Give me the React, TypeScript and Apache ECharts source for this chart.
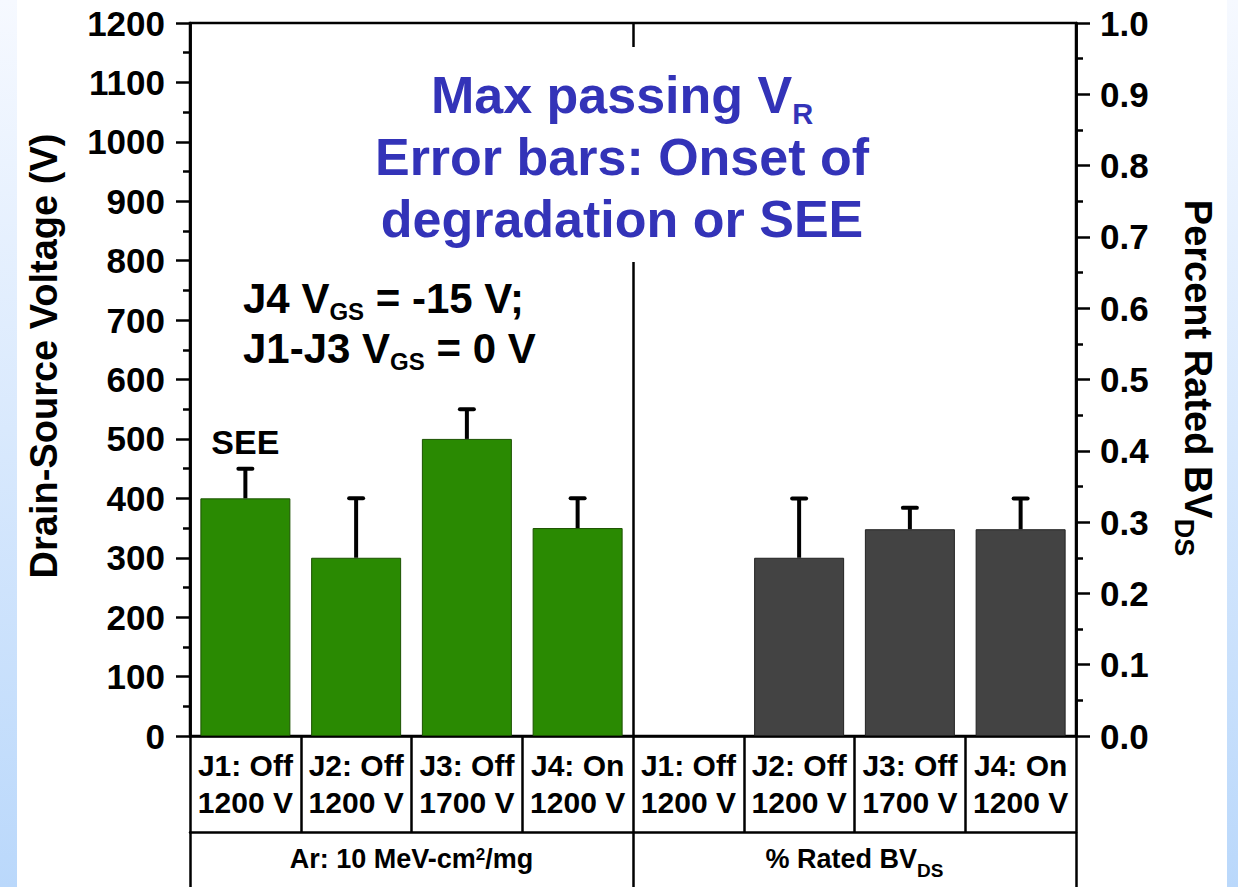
import React, { useEffect, useRef } from "react";
import * as echarts from "echarts";

// ---------- data ----------
const devices = ["J1: Off", "J2: Off", "J3: Off", "J4: On", "J1: Off", "J2: Off", "J3: Off", "J4: On"];
const ratings = ["1200 V", "1200 V", "1700 V", "1200 V", "1200 V", "1200 V", "1700 V", "1200 V"];
const categoryKeys = ["ar-J1", "ar-J2", "ar-J3", "ar-J4", "bv-J1", "bv-J2", "bv-J3", "bv-J4"];
const groupKeys = ["ar", "bv"];
const groupLabels = ["{m|Ar: 10 MeV-cm}{sup|2}{m|/mg}", "{m|% Rated BV}{sub|DS}"];

// Ar: 10 MeV-cm2/mg, drain-source voltage (V)
const maxPassingV = [400, 300, 500, 350];
const onsetV = [450, 400, 550, 400];
const voltageNotes = ["SEE", "", "", ""];

// fraction of rated BV_DS
const ratedFraction: (number | null)[] = [null, 0.25, 0.29, 0.29];
const onsetFraction: (number | null)[] = [null, 0.333, 0.32, 0.333];

const leftTicks = { min: 0, max: 1200, interval: 100 };
const rightTicks = { min: 0, max: 1, interval: 0.1 };

const FONT = '"Liberation Sans", Arial, Helvetica, sans-serif';
const GREEN = "#2a8a02";
const GRAY = "#434343";
const TITLE_BLUE = "#3333b8";

export default function App() {
  const ref = useRef<HTMLDivElement | null>(null);

  useEffect(() => {
    document.body.style.margin = "0";
    if (!ref.current) return;
    const chart = echarts.init(ref.current, undefined, { renderer: "svg" });

    const nGroup = maxPassingV.length;
    const greenData = [...maxPassingV, ...ratedFraction.map(() => "-")];
    const grayData = [...maxPassingV.map(() => "-"), ...ratedFraction.map((v) => (v == null ? "-" : v))];

    const errV = maxPassingV.map((v, i) => [i, v, onsetV[i]]);
    const errF: number[][] = [];
    ratedFraction.forEach((v, i) => {
      const u = onsetFraction[i];
      if (v != null && u != null) errF.push([i + nGroup, v, u]);
    });

    const makeRender = (notes: string[] | null) => (params: any, api: any) => {
      const x = api.value(0);
      const base = api.coord([x, api.value(1)]);
      const top = api.coord([x, api.value(2)]);
      const children: any[] = [
        {
          type: "line",
          shape: { x1: base[0], y1: base[1], x2: top[0], y2: top[1] },
          style: { stroke: "#000", lineWidth: 4 },
        },
        {
          type: "line",
          shape: { x1: top[0] - 7, y1: top[1], x2: top[0] + 7, y2: top[1] },
          style: { stroke: "#000", lineWidth: 4, lineCap: "round" },
        },
      ];
      const note = notes ? notes[params.dataIndex] : "";
      if (note) {
        children.push({
          type: "text",
          x: top[0],
          y: top[1] - 27,
          style: {
            text: note,
            font: `bold 34px ${FONT}`,
            fill: "#000",
            align: "center",
            verticalAlign: "middle",
          },
        });
      }
      return { type: "group", children };
    };

    const stripGradient = () =>
      new echarts.graphic.LinearGradient(0, 0, 0, 1, [
        { offset: 0, color: "#f6f9ff" },
        { offset: 1, color: "#bad8fb" },
      ]);

    const axisLineStyle = { color: "#000", width: 2.5 };

    const option: any = {
      animation: false,
      backgroundColor: "#ffffff",
      grid: {
        left: 190,
        right: 162,
        top: 23,
        bottom: 151,
        show: true,
        borderColor: "#000",
        borderWidth: 2.5,
        backgroundColor: "transparent",
      },
      xAxis: [
        {
          type: "category",
          data: categoryKeys,
          position: "bottom",
          axisLine: { show: true, onZero: false, lineStyle: axisLineStyle },
          axisTick: { show: true, interval: 0, length: 96, lineStyle: axisLineStyle },
          axisLabel: {
            interval: 0,
            margin: 11,
            formatter: (_v: string, i: number) => `${devices[i]}\n${ratings[i]}`,
            fontFamily: FONT,
            fontWeight: "bold",
            fontSize: 30,
            lineHeight: 37,
            color: "#000",
          },
          splitLine: { show: false },
        },
        {
          type: "category",
          data: groupKeys,
          position: "bottom",
          offset: 96,
          axisLine: { show: true, onZero: false, lineStyle: axisLineStyle },
          axisTick: { show: true, interval: 0, length: 55, lineStyle: axisLineStyle },
          axisLabel: {
            interval: 0,
            margin: 12,
            formatter: (_v: string, i: number) => groupLabels[i],
            color: "#000",
            rich: {
              m: { fontFamily: FONT, fontWeight: "bold", fontSize: 27, lineHeight: 30, color: "#000" },
              sup: { fontFamily: FONT, fontWeight: "bold", fontSize: 17, lineHeight: 30, padding: [0, 0, 10, 0], color: "#000" },
              sub: { fontFamily: FONT, fontWeight: "bold", fontSize: 19, lineHeight: 30, padding: [23, 0, 0, 0], color: "#000" },
            },
          },
          splitLine: { show: true, interval: 0, lineStyle: axisLineStyle },
        },
      ],
      yAxis: [
        {
          type: "value",
          position: "left",
          ...leftTicks,
          axisLine: { show: true, onZero: false, lineStyle: axisLineStyle },
          axisTick: { show: true, length: 14, lineStyle: axisLineStyle },
          minorTick: { show: true, splitNumber: 2, length: 7, lineStyle: axisLineStyle },
          splitLine: { show: false },
          axisLabel: {
            margin: 25,
            formatter: (v: number) => String(v),
            fontFamily: FONT,
            fontWeight: "bold",
            fontSize: 35,
            color: "#000",
          },
        },
        {
          type: "value",
          position: "right",
          ...rightTicks,
          axisLine: { show: true, onZero: false, lineStyle: axisLineStyle },
          axisTick: { show: true, length: 14, lineStyle: axisLineStyle },
          minorTick: { show: true, splitNumber: 2, length: 7, lineStyle: axisLineStyle },
          splitLine: { show: false },
          axisLabel: {
            margin: 24,
            formatter: (v: number) => v.toFixed(1),
            fontFamily: FONT,
            fontWeight: "bold",
            fontSize: 35,
            color: "#000",
          },
        },
      ],
      series: [
        {
          name: "Max passing V",
          type: "bar",
          xAxisIndex: 0,
          yAxisIndex: 0,
          data: greenData,
          barWidth: 90,
          barGap: "-100%",
          itemStyle: { color: GREEN, borderColor: "#1c5200", borderWidth: 1 },
          z: 2,
        },
        {
          name: "Percent rated BV",
          type: "bar",
          xAxisIndex: 0,
          yAxisIndex: 1,
          data: grayData,
          barWidth: 90,
          barGap: "-100%",
          itemStyle: { color: GRAY, borderColor: "#222", borderWidth: 1 },
          z: 2,
        },
        {
          name: "Onset V",
          type: "custom",
          xAxisIndex: 0,
          yAxisIndex: 0,
          data: errV,
          encode: { x: 0, y: [1, 2] },
          renderItem: makeRender(voltageNotes),
          z: 5,
        },
        {
          name: "Onset fraction",
          type: "custom",
          xAxisIndex: 0,
          yAxisIndex: 1,
          data: errF,
          encode: { x: 0, y: [1, 2] },
          renderItem: makeRender(null),
          z: 5,
        },
      ],
      graphic: [
        { type: "rect", x: 0, y: 0, shape: { width: 17, height: 887 }, style: { fill: stripGradient() }, z: 0, silent: true },
        { type: "rect", x: 1227, y: 0, shape: { width: 11, height: 887 }, style: { fill: stripGradient() }, z: 0, silent: true },
        { type: "rect", x: 626, y: 47, shape: { width: 16, height: 215 }, style: { fill: "#ffffff" }, z: 50, silent: true },
        {
          type: "text",
          x: 622,
          y: 157,
          z: 51,
          style: {
            text: "{m|Max passing V}{sub|R}\n{m|Error bars: Onset of}\n{m|degradation or SEE}",
            align: "center",
            verticalAlign: "middle",
            fill: TITLE_BLUE,
            rich: {
              m: { fontFamily: FONT, fontWeight: "bold", fontSize: 52, lineHeight: 62, fill: TITLE_BLUE },
              sub: { fontFamily: FONT, fontWeight: "bold", fontSize: 29, lineHeight: 62, padding: [38, 0, 0, 0], fill: TITLE_BLUE },
            },
          },
        },
        {
          type: "text",
          x: 243,
          y: 323,
          z: 51,
          style: {
            text: "{m|J4 V}{sub|GS}{m| = -15 V;}\n{m|J1-J3 V}{sub|GS}{m| = 0 V}",
            align: "left",
            verticalAlign: "middle",
            fill: "#000",
            rich: {
              m: { fontFamily: FONT, fontWeight: "bold", fontSize: 42, lineHeight: 50, fill: "#000" },
              sub: { fontFamily: FONT, fontWeight: "bold", fontSize: 24, lineHeight: 50, padding: [27, 0, 0, 0], fill: "#000" },
            },
          },
        },
        {
          type: "text",
          x: 44,
          y: 356,
          rotation: Math.PI / 2,
          z: 51,
          style: {
            text: "Drain-Source Voltage (V)",
            align: "center",
            verticalAlign: "middle",
            font: `bold 38px ${FONT}`,
            fill: "#000",
          },
        },
        {
          type: "text",
          x: 1198,
          y: 378,
          rotation: -Math.PI / 2,
          z: 51,
          style: {
            text: "{m|Percent Rated BV}{sub|DS}",
            align: "center",
            verticalAlign: "middle",
            fill: "#000",
            rich: {
              m: { fontFamily: FONT, fontWeight: "bold", fontSize: 38, lineHeight: 44, fill: "#000" },
              sub: { fontFamily: FONT, fontWeight: "bold", fontSize: 27, lineHeight: 44, padding: [28, 0, 0, 0], fill: "#000" },
            },
          },
        },
      ],
    };

    chart.setOption(option);
    return () => {
      chart.dispose();
    };
  }, []);

  return <div ref={ref} style={{ width: 1238, height: 887 }} />;
}
